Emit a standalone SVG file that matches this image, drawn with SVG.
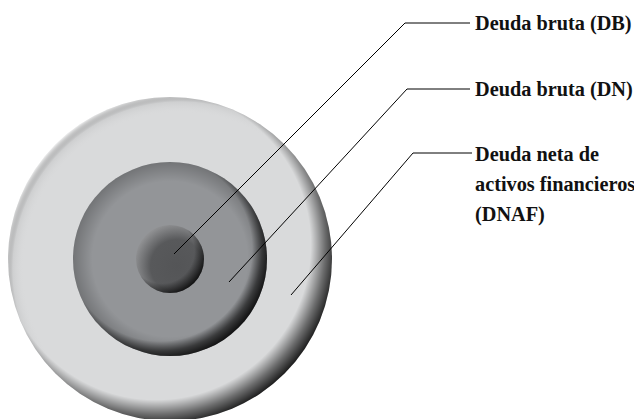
<svg xmlns="http://www.w3.org/2000/svg" width="634" height="419" viewBox="0 0 634 419">
  <style>
    .lbl { font-family: "Liberation Serif", "Times New Roman", serif; font-weight: bold; font-size: 20.3px; fill: #111; }
    .lead { fill: none; stroke: #000; stroke-width: 1; }
  </style>
  <defs>
    <!-- outer ring -->
    <radialGradient id="oDark" gradientUnits="userSpaceOnUse" cx="156" cy="245" r="182">
      <stop offset="0" stop-color="#000" stop-opacity="0"/>
      <stop offset="0.85" stop-color="#000" stop-opacity="0"/>
      <stop offset="0.93" stop-color="#000" stop-opacity="0.5"/>
      <stop offset="1" stop-color="#000" stop-opacity="0.88"/>
    </radialGradient>
    <radialGradient id="oLight" gradientUnits="userSpaceOnUse" cx="180" cy="269" r="176">
      <stop offset="0" stop-color="#fff" stop-opacity="0"/>
      <stop offset="0.88" stop-color="#fff" stop-opacity="0"/>
      <stop offset="0.95" stop-color="#000" stop-opacity="0.05"/>
      <stop offset="1" stop-color="#fff" stop-opacity="0.55"/>
    </radialGradient>
    <!-- middle disc -->
    <radialGradient id="mRim" gradientUnits="userSpaceOnUse" cx="170" cy="259" r="97">
      <stop offset="0" stop-color="#000" stop-opacity="0"/>
      <stop offset="0.8" stop-color="#000" stop-opacity="0"/>
      <stop offset="1" stop-color="#000" stop-opacity="0.22"/>
    </radialGradient>
    <radialGradient id="mDark" gradientUnits="userSpaceOnUse" cx="160" cy="249" r="111">
      <stop offset="0" stop-color="#000" stop-opacity="0"/>
      <stop offset="0.83" stop-color="#000" stop-opacity="0"/>
      <stop offset="0.92" stop-color="#000" stop-opacity="0.55"/>
      <stop offset="1" stop-color="#000" stop-opacity="0.85"/>
    </radialGradient>
    <!-- inner disc -->
    <radialGradient id="iBase" gradientUnits="userSpaceOnUse" cx="177" cy="266" r="44">
      <stop offset="0" stop-color="#545557"/>
      <stop offset="0.6" stop-color="#58595b"/>
      <stop offset="1" stop-color="#939496"/>
    </radialGradient>
    <radialGradient id="iDark" gradientUnits="userSpaceOnUse" cx="162" cy="251" r="45">
      <stop offset="0" stop-color="#000" stop-opacity="0"/>
      <stop offset="0.72" stop-color="#000" stop-opacity="0"/>
      <stop offset="1" stop-color="#000" stop-opacity="0.8"/>
    </radialGradient>
  </defs>

  <rect x="0" y="0" width="634" height="419" fill="#fff"/>

  <g id="ring-outer">
    <circle cx="170" cy="259" r="162" fill="#d9dadb"/>
    <circle cx="170" cy="259" r="162" fill="url(#oLight)"/>
    <circle cx="170" cy="259" r="162" fill="url(#oDark)"/>
  </g>

  <g id="ring-middle">
    <circle cx="170" cy="259" r="97" fill="#939598"/>
    <circle cx="170" cy="259" r="97" fill="url(#mRim)"/>
    <circle cx="170" cy="259" r="97" fill="url(#mDark)"/>
  </g>

  <g id="ring-inner">
    <circle cx="170" cy="259" r="34" fill="url(#iBase)"/>
    <circle cx="170" cy="259" r="34" fill="url(#iDark)"/>
  </g>

  <g id="connectors">
    <polyline class="lead" points="174,254 405,23 470,23"/>
    <polyline class="lead" points="229,282 407,89 470,89"/>
    <polyline class="lead" points="291,295 413,153 472,153"/>
  </g>

  <g id="label-db">
    <text class="lbl" x="475" y="30">Deuda bruta (DB)</text>
  </g>
  <g id="label-dn">
    <text class="lbl" x="475" y="96">Deuda bruta (DN)</text>
  </g>
  <g id="label-dnaf">
    <text class="lbl" x="475" y="161">Deuda neta de</text>
    <text class="lbl" x="475" y="191">activos financieros</text>
    <text class="lbl" x="475" y="221">(DNAF)</text>
  </g>
</svg>
